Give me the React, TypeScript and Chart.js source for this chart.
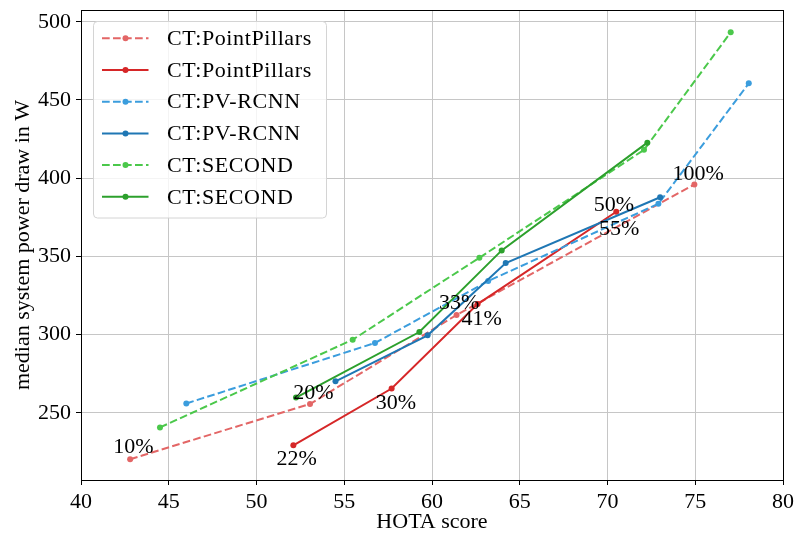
import { useEffect, useRef } from 'react';
import { Chart, registerables } from 'chart.js';

Chart.register(...registerables);

const FONT = "'Liberation Serif', 'DejaVu Serif', serif";

// ---- data (HOTA score vs. median system power draw in W) ----
const ppDashX = [42.8, 53.05, 61.4, 74.95];
const ppDashY = [220.3, 255.6, 312.5, 396.0];
const ppSolidX = [52.1, 57.7, 62.6, 70.5];
const ppSolidY = [229.2, 265.5, 319.5, 378.5];
const pvDashX = [46.0, 56.75, 63.2, 72.9, 78.05];
const pvDashY = [255.9, 294.6, 334.2, 383.6, 460.6];
const pvSolidX = [54.5, 59.75, 64.2, 73.0];
const pvSolidY = [270.1, 299.5, 345.7, 387.8];
const seDashX = [44.5, 55.48, 62.7, 72.08, 77.02];
const seDashY = [240.6, 296.7, 349.1, 418.1, 493.2];
const seSolidX = [52.25, 59.28, 63.97, 72.27];
const seSolidY = [259.7, 301.6, 353.8, 422.7];

const seriesLabels = [
  'CT:PointPillars',
  'CT:PointPillars',
  'CT:PV-RCNN',
  'CT:PV-RCNN',
  'CT:SECOND',
  'CT:SECOND',
];

const annoText = ['10%', '20%', '22%', '30%', '33%', '41%', '50%', '55%', '100%'];
const annoX = [42.98, 53.24, 52.29, 57.95, 61.55, 62.83, 70.37, 70.67, 75.17];
const annoY = [228.2, 262.3, 220.1, 256.3, 320.1, 309.5, 382.9, 367.6, 402.7];

const xTicks = [40, 45, 50, 55, 60, 65, 70, 75, 80];
const yTicks = [250, 300, 350, 400, 450, 500];

const seriesX = [ppDashX, ppSolidX, pvDashX, pvSolidX, seDashX, seSolidX];
const seriesY = [ppDashY, ppSolidY, pvDashY, pvSolidY, seDashY, seSolidY];
const colors = ['#e36666', '#d62728', '#3b9ddd', '#1f77b4', '#4bc84b', '#2ca02c'];
const dashed = [true, false, true, false, true, false];
const DASH = [7.7, 3.3];

const overlayPlugin = {
  id: 'overlay',
  afterDraw(chart: any) {
    const { ctx, chartArea, scales } = chart;
    const xs = scales.x;
    const ys = scales.y;
    ctx.save();
    // annotations
    ctx.fillStyle = '#000';
    ctx.font = `22px ${FONT}`;
    ctx.textAlign = 'center';
    ctx.textBaseline = 'middle';
    annoText.forEach((t, i) => {
      ctx.fillText(t, xs.getPixelForValue(annoX[i]), ys.getPixelForValue(annoY[i]));
    });
    // spines
    ctx.strokeStyle = '#000';
    ctx.lineWidth = 1;
    ctx.setLineDash([]);
    ctx.strokeRect(
      Math.round(chartArea.left) + 0.5,
      Math.round(chartArea.top) + 0.5,
      Math.round(chartArea.right - chartArea.left),
      Math.round(chartArea.bottom - chartArea.top)
    );
    // legend
    const bx = chartArea.left + 12.5;
    const by = chartArea.top + 11.5;
    const bw = 233;
    const bh = 196.5;
    const r = 4;
    ctx.beginPath();
    ctx.moveTo(bx + r, by);
    ctx.lineTo(bx + bw - r, by);
    ctx.arcTo(bx + bw, by, bx + bw, by + r, r);
    ctx.lineTo(bx + bw, by + bh - r);
    ctx.arcTo(bx + bw, by + bh, bx + bw - r, by + bh, r);
    ctx.lineTo(bx + r, by + bh);
    ctx.arcTo(bx, by + bh, bx, by + bh - r, r);
    ctx.lineTo(bx, by + r);
    ctx.arcTo(bx, by, bx + r, by, r);
    ctx.closePath();
    ctx.fillStyle = 'rgba(255,255,255,0.8)';
    ctx.fill();
    ctx.strokeStyle = '#d4d4d4';
    ctx.lineWidth = 1;
    ctx.stroke();
    chart.data.datasets.forEach((ds: any, i: number) => {
      const yy = by + 16.8 + i * 31.7;
      ctx.strokeStyle = ds.borderColor;
      ctx.lineWidth = 2;
      ctx.setLineDash(ds.borderDash || []);
      ctx.beginPath();
      ctx.moveTo(bx + 8.5, yy);
      ctx.lineTo(bx + 55, yy);
      ctx.stroke();
      ctx.setLineDash([]);
      ctx.fillStyle = ds.borderColor;
      ctx.beginPath();
      ctx.arc(bx + 32, yy, 3, 0, Math.PI * 2);
      ctx.fill();
      ctx.fillStyle = '#000';
      ctx.font = `22px ${FONT}`;
      ctx.textAlign = 'left';
      ctx.textBaseline = 'middle';
      (ctx as any).letterSpacing = '0.6px';
      ctx.fillText(ds.label, bx + 73.5, yy + 1);
      (ctx as any).letterSpacing = '0px';
    });
    ctx.restore();
  },
};

export default function App() {
  const ref = useRef<HTMLCanvasElement>(null);
  useEffect(() => {
    const canvas = ref.current!;
    const datasets = seriesX.map((xsArr, i) => ({
      label: seriesLabels[i],
      data: xsArr.map((x, j) => ({ x, y: seriesY[i][j] })),
      borderColor: colors[i],
      backgroundColor: colors[i],
      pointBackgroundColor: colors[i],
      pointBorderWidth: 0,
      pointRadius: 3,
      borderWidth: 2,
      borderDash: dashed[i] ? DASH : [],
      showLine: true,
      tension: 0,
      order: -i,
    }));
    const tickFont = { family: FONT, size: 22 };
    const chart = new Chart(canvas, {
      type: 'scatter',
      data: { datasets },
      plugins: [overlayPlugin],
      options: {
        animation: false,
        responsive: false,
        devicePixelRatio: 1,
        layout: { padding: { top: 10, right: 22, left: 0, bottom: 0 } },
        plugins: { legend: { display: false }, tooltip: { enabled: false } },
        scales: {
          x: {
            type: 'linear',
            min: 40,
            max: 80,
            afterBuildTicks: (s: any) => {
              s.ticks = xTicks.map((v) => ({ value: v }));
            },
            afterFit: (s: any) => {
              s.height = 69;
              s.paddingLeft = 0;
              s.paddingRight = 0;
            },
            ticks: {
              font: tickFont,
              color: '#000',
              padding: 4,
              maxRotation: 0,
              autoSkip: false,
              callback: (v: any) => String(v),
            },
            grid: { color: '#c6c6c6', lineWidth: 1, tickLength: 5, tickColor: '#000', drawTicks: true },
            border: { color: '#000', width: 1 },
            title: {
              display: true,
              text: 'HOTA score',
              font: tickFont,
              color: '#000',
              padding: { top: 0, bottom: 14 },
            },
          },
          y: {
            type: 'linear',
            min: 207,
            max: 507.5,
            afterBuildTicks: (s: any) => {
              s.ticks = yTicks.map((v) => ({ value: v }));
            },
            afterFit: (s: any) => {
              s.width = 81;
              s.paddingTop = 0;
              s.paddingBottom = 0;
            },
            ticks: {
              font: tickFont,
              color: '#000',
              padding: 5,
              autoSkip: false,
              callback: (v: any) => String(v),
            },
            grid: { color: '#c6c6c6', lineWidth: 1, tickLength: 5, tickColor: '#000', drawTicks: true },
            border: { color: '#000', width: 1 },
            title: {
              display: true,
              text: 'median system power draw in W',
              font: tickFont,
              color: '#000',
              padding: { top: 10, bottom: 0 },
            },
          },
        },
      },
    } as any);
    return () => chart.destroy();
  }, []);
  return (
    <div style={{ position: 'absolute', left: 0, top: 0, width: 805, height: 549 }}>
      <canvas ref={ref} width={805} height={549} />
    </div>
  );
}
